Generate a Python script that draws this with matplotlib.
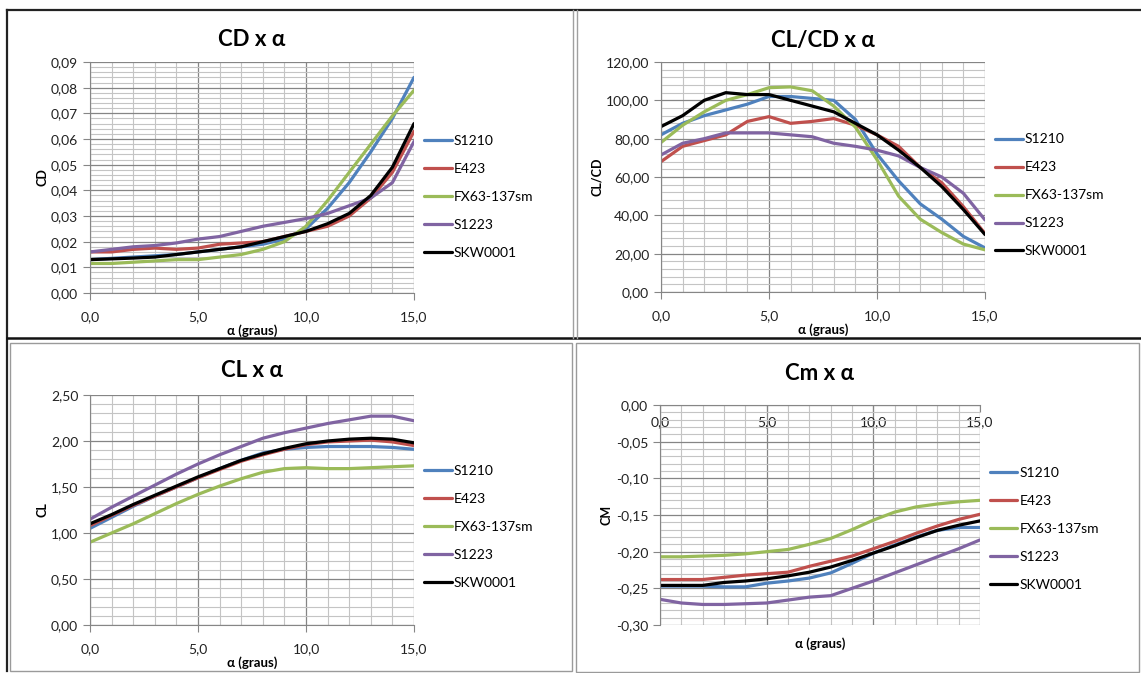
import numpy as np
import matplotlib
matplotlib.use("Agg")
import matplotlib.pyplot as plt
from matplotlib.lines import Line2D
from matplotlib.patches import Rectangle
from matplotlib.ticker import MultipleLocator, FuncFormatter

plt.rcParams['font.family'] = ['Lato', 'DejaVu Sans']

alpha = list(range(16))
names = ["S1210", "E423", "FX63-137sm", "S1223", "SKW0001"]
colors = ["#4F81BD", "#C0504D", "#9BBB59", "#8064A2", "#000000"]

# CD x alpha
cd_s1210 = [0.013, 0.0135, 0.014, 0.0145, 0.015, 0.016, 0.017, 0.018, 0.019, 0.021, 0.025, 0.033, 0.043, 0.055, 0.068, 0.084]
cd_e423 = [0.016, 0.016, 0.017, 0.0175, 0.017, 0.0175, 0.019, 0.0195, 0.020, 0.022, 0.024, 0.026, 0.030, 0.037, 0.047, 0.063]
cd_fx63 = [0.0115, 0.0115, 0.012, 0.0125, 0.013, 0.013, 0.014, 0.015, 0.017, 0.020, 0.026, 0.036, 0.047, 0.058, 0.069, 0.079]
cd_s1223 = [0.016, 0.017, 0.018, 0.0185, 0.0195, 0.021, 0.022, 0.024, 0.026, 0.0275, 0.029, 0.031, 0.034, 0.037, 0.043, 0.059]
cd_skw = [0.013, 0.0133, 0.0136, 0.014, 0.015, 0.016, 0.017, 0.018, 0.020, 0.022, 0.024, 0.027, 0.031, 0.038, 0.049, 0.066]

# CL/CD x alpha
clcd_s1210 = [82, 88, 92, 95, 98, 102, 102, 101, 100, 90, 72, 58, 46, 38, 29, 23]
clcd_e423 = [68, 76, 79, 82, 89, 91.5, 88, 89, 90.5, 87, 82, 76, 65, 57, 44.5, 30.5]
clcd_fx63 = [78, 87, 94, 100, 103, 106.6, 107, 105, 97, 86, 69, 50, 38, 31, 25, 22]
clcd_s1223 = [71.5, 77.6, 80, 83, 83, 83, 82, 81, 77.6, 76, 74, 71, 65, 60, 51.5, 37.6]
clcd_skw = [86.3, 92, 100, 104, 103, 103, 100, 97, 94, 88, 82, 74, 65, 55, 43, 30]

# CL x alpha
cl_s1210 = [1.05, 1.17, 1.29, 1.40, 1.50, 1.60, 1.70, 1.79, 1.87, 1.91, 1.93, 1.94, 1.94, 1.94, 1.93, 1.91]
cl_e423 = [1.08, 1.19, 1.30, 1.40, 1.50, 1.60, 1.69, 1.78, 1.85, 1.91, 1.96, 1.99, 2.00, 2.01, 1.99, 1.95]
cl_fx63 = [0.90, 1.00, 1.10, 1.21, 1.32, 1.42, 1.51, 1.59, 1.66, 1.70, 1.71, 1.70, 1.70, 1.71, 1.72, 1.73]
cl_s1223 = [1.15, 1.28, 1.40, 1.52, 1.64, 1.75, 1.85, 1.94, 2.03, 2.09, 2.14, 2.19, 2.23, 2.27, 2.27, 2.22]
cl_skw = [1.10, 1.20, 1.31, 1.41, 1.51, 1.61, 1.70, 1.79, 1.86, 1.92, 1.97, 2.00, 2.02, 2.03, 2.02, 1.98]

# Cm x alpha
cm_s1210 = [-0.247, -0.247, -0.247, -0.248, -0.248, -0.243, -0.240, -0.236, -0.229, -0.216, -0.202, -0.191, -0.180, -0.171, -0.167, -0.167]
cm_e423 = [-0.238, -0.238, -0.238, -0.235, -0.232, -0.230, -0.228, -0.220, -0.213, -0.206, -0.196, -0.186, -0.175, -0.165, -0.156, -0.149]
cm_fx63 = [-0.207, -0.207, -0.206, -0.205, -0.203, -0.200, -0.197, -0.190, -0.182, -0.170, -0.157, -0.146, -0.139, -0.135, -0.132, -0.130]
cm_s1223 = [-0.265, -0.270, -0.272, -0.272, -0.271, -0.270, -0.266, -0.262, -0.260, -0.250, -0.240, -0.229, -0.218, -0.207, -0.196, -0.184]
cm_skw = [-0.246, -0.246, -0.246, -0.242, -0.240, -0.237, -0.233, -0.228, -0.221, -0.212, -0.202, -0.192, -0.181, -0.171, -0.164, -0.158]

W, H = 1141, 673


def box(x0, y0, x1, y1):
    # pixel box (top-left origin) -> figure fraction rect
    return [x0 / W, 1 - y1 / H, (x1 - x0) / W, (y1 - y0) / H]


def comma(fmt):
    return FuncFormatter(lambda v, p: (fmt % v).replace(".", ","))


def draw_panel(ax, series, title, ylabel, ylim, ymajor, yminor, yfmt, title_y, leg_y, cm=False):
    ax.set_xlim(0, 15)
    ax.set_ylim(*ylim)
    ax.xaxis.set_major_locator(MultipleLocator(5))
    ax.xaxis.set_minor_locator(MultipleLocator(1))
    ax.yaxis.set_major_locator(MultipleLocator(ymajor))
    ax.yaxis.set_minor_locator(MultipleLocator(yminor))
    ax.xaxis.set_major_formatter(comma("%.1f"))
    ax.yaxis.set_major_formatter(comma(yfmt))
    ax.grid(which="minor", color="#c4c4c4", lw=0.8)
    ax.grid(which="major", color="#858585", lw=0.9)
    ax.set_axisbelow(True)
    for s in ax.spines.values():
        s.set_visible(False)
    ax.spines["left"].set_visible(True)
    ax.spines["left"].set_color("#868686")
    if cm:
        ax.spines["top"].set_visible(True)
        ax.spines["top"].set_color("#868686")
        ax.xaxis.set_ticks_position("top")
        ax.tick_params(axis="x", which="major", labeltop=True, labelbottom=False,
                       direction="in", length=5, pad=-17, color="#868686")
        ax.tick_params(axis="x", which="minor", top=False, bottom=False)
    else:
        ax.spines["bottom"].set_visible(True)
        ax.spines["bottom"].set_color("#868686")
        ax.tick_params(axis="x", which="major", length=5, pad=8, color="#868686")
        ax.tick_params(axis="x", which="minor", length=0)
    ax.tick_params(axis="y", which="major", length=5, color="#868686")
    ax.tick_params(axis="y", which="minor", length=0)
    ax.tick_params(labelsize=10, labelcolor="#222222")
    for ys, c, n in zip(series, colors, names):
        ax.plot(alpha, ys, color=c, lw=2.3, label=n, solid_capstyle="round")
    ax.set_ylabel(ylabel, fontsize=9, fontweight="bold", labelpad=2)
    if cm:
        ax.text(0.5, -0.085, "\u03b1 (graus)", transform=ax.transAxes, ha="center",
                va="center", fontsize=9.5, fontweight="bold")
    else:
        ax.set_xlabel("\u03b1 (graus)", fontsize=9.5, fontweight="bold", labelpad=1)
    bb = ax.get_position()
    fig.text(bb.x0 + bb.width / 2, title_y, title, ha="center", va="center",
             fontsize=16, fontweight="bold")
    ax.legend(loc="center left", bbox_to_anchor=(1.0, leg_y), frameon=False,
              fontsize=10, handlelength=2.0, handletextpad=0.15, labelspacing=1.15,
              borderaxespad=0.3)


fig = plt.figure(figsize=(W / 100, H / 100), dpi=100)

ax1 = fig.add_axes(box(90, 62, 414, 293))
draw_panel(ax1, [cd_s1210, cd_e423, cd_fx63, cd_s1223, cd_skw], "CD x \u03b1", "CD",
           (0, 0.09), 0.01, 0.002, "%.2f", 1 - 40 / H, 0.415)

ax2 = fig.add_axes(box(661, 62, 985, 292))
draw_panel(ax2, [clcd_s1210, clcd_e423, clcd_fx63, clcd_s1223, clcd_skw], "CL/CD x \u03b1", "CL/CD",
           (0, 120), 20, 4, "%.2f", 1 - 40 / H, 0.42)

ax3 = fig.add_axes(box(90, 395, 414, 625))
draw_panel(ax3, [cl_s1210, cl_e423, cl_fx63, cl_s1223, cl_skw], "CL x \u03b1", "CL",
           (0, 2.5), 0.5, 0.1, "%.2f", 1 - 370 / H, 0.425)

ax4 = fig.add_axes(box(660, 405, 980, 625))
draw_panel(ax4, [cm_s1210, cm_e423, cm_fx63, cm_s1223, cm_skw], "Cm x \u03b1", "CM",
           (-0.30, 0.0), 0.05, 0.01, "%.2f", 1 - 373 / H, 0.435, cm=True)


def fline(x0, y0, x1, y1, color, lw):
    fig.add_artist(Line2D([x0 / W, x1 / W], [1 - y0 / H, 1 - y1 / H],
                          transform=fig.transFigure, color=color, lw=lw))


# frames around the four pasted charts
fline(7, 10, W, 10, "#222222", 1.6)
fline(7, 10, 7, 671, "#222222", 1.6)
fline(7, 338, W, 338, "#111111", 1.8)
fline(573, 10, 573, 338, "#a0a0a0", 1.0)
fline(577, 10, 577, 338, "#a0a0a0", 1.0)
fig.add_artist(Rectangle((10 / W, 1 - 671 / H), (572 - 10) / W, (671 - 343) / H,
                         transform=fig.transFigure, fill=False, ec="#9a9a9a", lw=1.0))
fig.add_artist(Rectangle((576 / W, 1 - 672 / H), (1139 - 576) / W, (672 - 343) / H,
                         transform=fig.transFigure, fill=False, ec="#9a9a9a", lw=1.0))

fig.savefig("out.png", dpi=100)
